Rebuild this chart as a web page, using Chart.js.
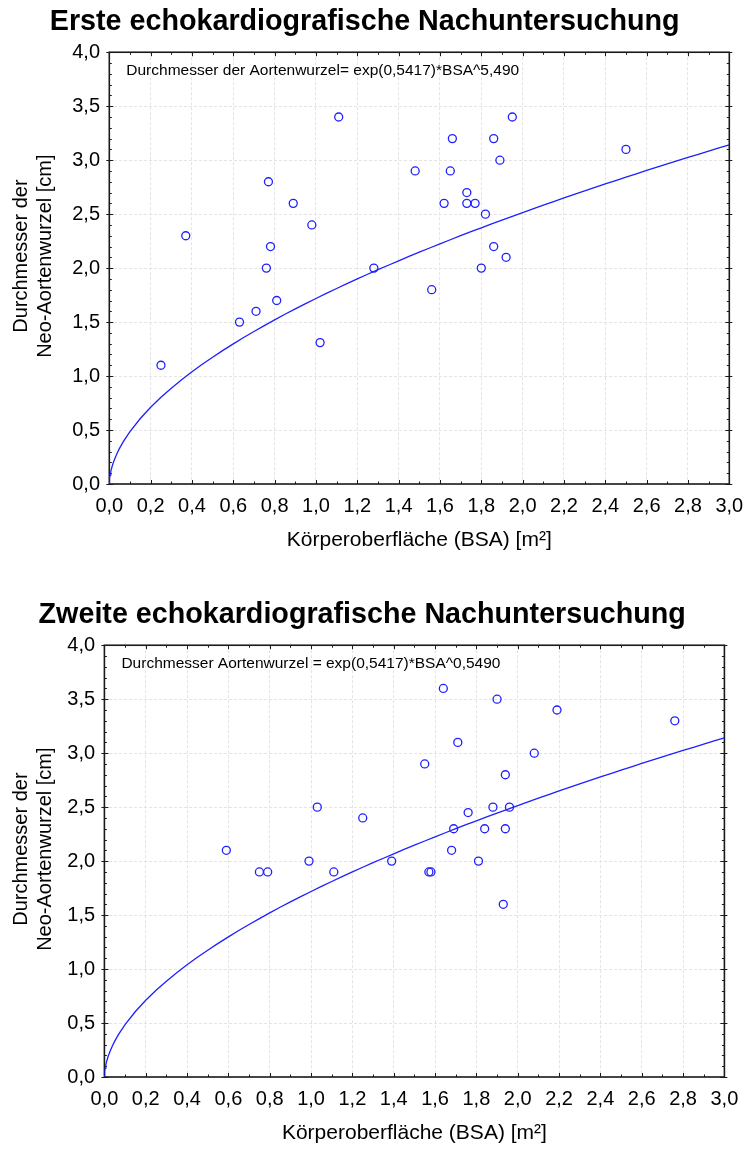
<!DOCTYPE html>
<html lang="de">
<head>
<meta charset="UTF-8">
<title>Echokardiografische Nachuntersuchung</title>
<script src="https://cdn.jsdelivr.net/npm/chart.js@4.4.1/dist/chart.umd.min.js"></script>
<style>
  * { margin: 0; padding: 0; box-sizing: border-box; }
  body { width: 747px; height: 1149px; background: #fff; position: relative; overflow: hidden; }
  canvas { position: absolute; left: 0; }
  #c1 { top: 0; }
  #c2 { top: 593px; }
</style>
</head>
<body>
  <canvas id="c1" width="747" height="556"></canvas>
  <canvas id="c2" width="747" height="556"></canvas>

<script>
// --- Daten: erste Nachuntersuchung ---
const bsa1   = [0.25, 0.37, 0.63, 0.71, 0.76, 0.77, 0.78, 0.81, 0.89, 0.98, 1.02, 1.11, 1.28, 1.48, 1.56,
                1.62, 1.65, 1.66, 1.73, 1.73, 1.77, 1.80, 1.82, 1.86, 1.86, 1.89, 1.92, 1.95, 2.50];
const aorta1 = [1.1, 2.3, 1.5, 1.6, 2.0, 2.8, 2.2, 1.7, 2.6, 2.4, 1.31, 3.4, 2.0, 2.9, 1.8,
                2.6, 2.9, 3.2, 2.7, 2.6, 2.6, 2.0, 2.5, 3.2, 2.2, 3.0, 2.1, 3.4, 3.1];

// --- Daten: zweite Nachuntersuchung ---
const bsa2   = [0.59, 0.75, 0.79, 0.99, 1.03, 1.11, 1.25, 1.39, 1.55, 1.57, 1.58, 1.64, 1.68, 1.69,
                1.71, 1.76, 1.81, 1.84, 1.88, 1.90, 1.93, 1.94, 1.94, 1.96, 2.08, 2.19, 2.76];
const aorta2 = [2.1, 1.9, 1.9, 2.0, 2.5, 1.9, 2.4, 2.0, 2.9, 1.9, 1.9, 3.6, 2.1, 2.3,
                3.1, 2.45, 2.0, 2.3, 2.5, 3.5, 1.6, 2.8, 2.3, 2.5, 3.0, 3.4, 3.3];

// Regressionskurve: D = exp(a) * BSA^b
const fitParams = [0.5417, 0.549];

// Achsen
const xTickVals = [0, 0.2, 0.4, 0.6, 0.8, 1.0, 1.2, 1.4, 1.6, 1.8, 2.0, 2.2, 2.4, 2.6, 2.8, 3.0];
const yTickVals = [0, 0.5, 1.0, 1.5, 2.0, 2.5, 3.0, 3.5, 4.0];

const titles = ['Erste echokardiografische Nachuntersuchung', 'Zweite echokardiografische Nachuntersuchung'];
const notes = ['Durchmesser der Aortenwurzel= exp(0,5417)*BSA^5,490', 'Durchmesser Aortenwurzel = exp(0,5417)*BSA^0,5490'];
const xTitle = 'Körperoberfläche (BSA) [m²]';
const yTitle = ['Durchmesser der', 'Neo-Aortenwurzel [cm]'];

const FONT = '"Liberation Sans", Arial, Helvetica, sans-serif';
Chart.defaults.font.family = FONT;
Chart.defaults.color = '#000';

const BLUE = '#1f1fff';
const fmt = v => Number(v).toFixed(1).replace('.', ',');

function curvePoints() {
  const pts = [];
  const xs = [0, 0.0005, 0.001, 0.002, 0.004, 0.007, 0.01, 0.015, 0.02, 0.03, 0.04, 0.05, 0.07];
  for (let x = 0.1; x <= 3.0001; x += 0.05) xs.push(+x.toFixed(3));
  xs.forEach(x => pts.push({ x: x, y: Math.exp(fitParams[0]) * Math.pow(x, fitParams[1]) }));
  return pts;
}

// Rahmen mit Teilstrichen, Formeltext und Y-Achsentitel
const framePlugin = {
  id: 'frame',
  beforeDatasetsDraw(chart) {
    const { ctx, chartArea: a, scales: { x, y } } = chart;
    ctx.save();
    ctx.strokeStyle = '#1a1a1a';
    ctx.lineWidth = 1;
    ctx.beginPath();
    for (let i = 0; i <= 30; i++) {
      const px = Math.round(x.getPixelForValue(i / 10)) + 0.5;
      const len = i % 2 === 0 ? 4 : 2.5;
      ctx.moveTo(px, a.bottom); ctx.lineTo(px, a.bottom - len);
      ctx.moveTo(px, a.top); ctx.lineTo(px, a.top + len);
    }
    for (let i = 0; i <= 40; i++) {
      const py = Math.round(y.getPixelForValue(i / 10)) + 0.5;
      const major = i % 5 === 0;
      ctx.moveTo(major ? a.left - 3 : a.left, py); ctx.lineTo(a.left + (major ? 4 : 2.5), py);
      ctx.moveTo(major ? a.right + 3 : a.right, py); ctx.lineTo(a.right - (major ? 4 : 2.5), py);
    }
    ctx.stroke();
    ctx.lineWidth = 1.6;
    ctx.strokeRect(a.left, a.top, a.right - a.left, a.bottom - a.top);
    ctx.restore();
  },
  afterDraw(chart) {
    const { ctx, chartArea: a } = chart;
    ctx.save();
    ctx.fillStyle = '#000';
    ctx.textBaseline = 'middle';
    ctx.font = '15.5px ' + FONT;
    ctx.fillText(chart.options.plugins.frame.note, a.left + 17, a.top + 18);

    // Y-Titel, zweizeilig, gedreht
    ctx.font = '20px ' + FONT;
    ctx.textAlign = 'center';
    const cy = (a.top + a.bottom) / 2 - 12;
    [21.7, 45].forEach((lx, i) => {
      ctx.save();
      ctx.translate(lx, cy);
      ctx.rotate(-Math.PI / 2);
      ctx.fillText(yTitle[i], 0, 0);
      ctx.restore();
    });
    ctx.restore();
  }
};

function makeChart(id, idx, xs, ys, leftW, rightPad) {
  const pts = xs.map((v, i) => ({ x: v, y: ys[i] }));
  return new Chart(document.getElementById(id), {
    type: 'scatter',
    data: {
      datasets: [
        {
          data: curvePoints(), showLine: true, borderColor: BLUE, borderWidth: 1.3,
          pointRadius: 0, tension: 0, fill: false
        },
        {
          data: pts, pointRadius: 4, pointHoverRadius: 4, pointBorderWidth: 1.3,
          pointBorderColor: BLUE, pointBackgroundColor: 'rgba(0,0,0,0)'
        }
      ]
    },
    options: {
      responsive: false,
      animation: false,
      layout: { padding: { left: 0, right: rightPad, top: 0, bottom: 0 } },
      plugins: {
        legend: { display: false },
        tooltip: { enabled: false },
        title: {
          display: true, text: titles[idx], color: '#000',
          font: { size: 28.7, weight: 'bold' }, padding: { top: 4.5, bottom: 13.3 }
        },
        frame: { note: notes[idx] }
      },
      scales: {
        x: {
          type: 'linear', min: 0, max: 3,
          afterBuildTicks: s => { s.ticks = xTickVals.map(v => ({ value: v })); },
          afterFit: s => { s.height = 72; s.paddingLeft = 0; s.paddingRight = 0; },
          ticks: { callback: fmt, font: { size: 20 }, padding: 10.7, maxRotation: 0, autoSkip: false, color: '#000' },
          grid: { color: '#e4e4e4', lineWidth: 1, drawTicks: false, borderDash: [3, 2] },
          border: { display: false, dash: [3, 2] },
          title: { display: true, text: xTitle, font: { size: 21 }, padding: { top: 0, bottom: 3.4 }, color: '#000' }
        },
        y: {
          type: 'linear', min: 0, max: 4,
          afterBuildTicks: s => { s.ticks = yTickVals.map(v => ({ value: v })); },
          afterFit: s => { s.width = leftW; s.paddingTop = 0; s.paddingBottom = 0; },
          ticks: { callback: fmt, font: { size: 20 }, padding: 9.3, autoSkip: false, color: '#000' },
          grid: { color: '#e4e4e4', lineWidth: 1, drawTicks: false, borderDash: [3, 2] },
          border: { display: false, dash: [3, 2] },
          title: { display: false }
        }
      }
    },
    plugins: [framePlugin]
  });
}

makeChart('c1', 0, bsa1, aorta1, 109.3, 17.7);
makeChart('c2', 1, bsa2, aorta2, 104.4, 22.6);
</script>
</body>
</html>
